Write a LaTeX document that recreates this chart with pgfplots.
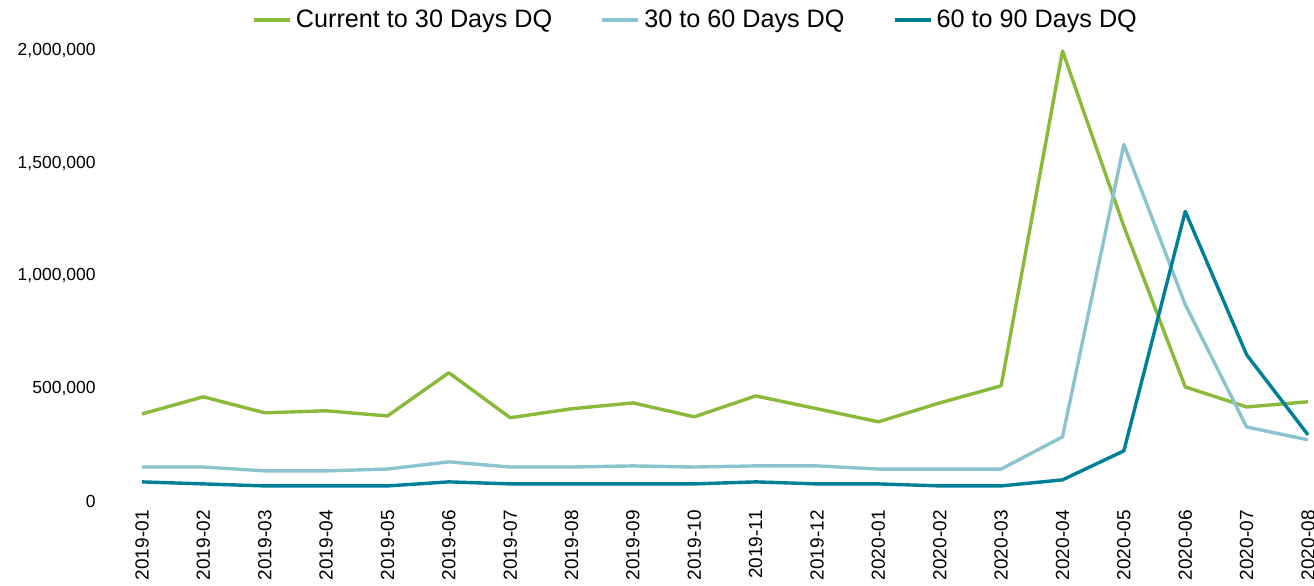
\documentclass[border=0pt]{standalone}
\usepackage{fontspec}
\setmainfont{Liberation Sans}
\usepackage{pgfplots}
\pgfplotsset{compat=1.18}
\definecolor{cgreen}{RGB}{138,186,57}
\definecolor{clblue}{RGB}{139,196,206}
\definecolor{cteal}{RGB}{0,128,150}
\begin{document}
\begin{tikzpicture}
\useasboundingbox (-71pt,-42pt) rectangle (586pt,250.5pt);
\begin{axis}[
  scale only axis,
  width=583pt, height=225pt,
  xmin=0, xmax=19, ymin=0, ymax=2000000,
  clip=false,
  axis line style={draw=none},
  major tick length=0pt,
  xtick={0,...,19},
  xticklabels={2019-01,2019-02,2019-03,2019-04,2019-05,2019-06,2019-07,2019-08,2019-09,2019-10,2019-11,2019-12,2020-01,2020-02,2020-03,2020-04,2020-05,2020-06,2020-07,2020-08},
  xticklabel style={rotate=90, anchor=east, inner sep=0pt, font=\fontsize{9.5}{11}\selectfont},
  xticklabel shift=4.5pt,
  ytick={0,500000,1000000,1500000,2000000},
  scaled y ticks=false,
  yticklabel style={anchor=east, inner sep=0pt, font=\fontsize{8.75}{10}\selectfont,
    /pgf/number format/.cd, fixed, 1000 sep={,}, assume math mode=true},
  yticklabel shift=23pt,
  legend columns=3,
  legend style={draw=none, fill=none, at={(axis description cs:0.4755,1.069)}, anchor=center,
    font=\fontsize{12.6}{14}\selectfont, /tikz/every even column/.append style={column sep=22pt},
    inner sep=0pt},
  legend image code/.code={\draw[#1, line width=2pt] (0pt,0pt) -- (18pt,0pt);},
  every axis plot/.append style={line width=1.7pt, line join=round},
]
\addplot[cgreen] coordinates {(0,387000)(1,463000)(2,392000)(3,401000)(4,378000)(5,570000)(6,370000)(7,410000)(8,436000)(9,374000)(10,467000)(11,410000)(12,352000)(13,436000)(14,512000)(15,2000000)(16,1220000)(17,507000)(18,418000)(19,441000)};
\addlegendentry{Current to 30 Days DQ}
\addplot[clblue] coordinates {(0,151000)(1,151000)(2,134000)(3,134000)(4,142000)(5,174000)(6,151000)(7,151000)(8,156000)(9,151000)(10,156000)(11,156000)(12,142000)(13,142000)(14,142000)(15,285000)(16,1585000)(17,873000)(18,329000)(19,272000)};
\addlegendentry{30 to 60 Days DQ}
\addplot[cteal] coordinates {(0,85000)(1,76000)(2,67000)(3,67000)(4,67000)(5,85000)(6,76000)(7,76000)(8,76000)(9,76000)(10,85000)(11,76000)(12,76000)(13,67000)(14,67000)(15,94000)(16,223000)(17,1287000)(18,650000)(19,294000)};
\addlegendentry{60 to 90 Days DQ}
\end{axis}
\end{tikzpicture}
\end{document}
